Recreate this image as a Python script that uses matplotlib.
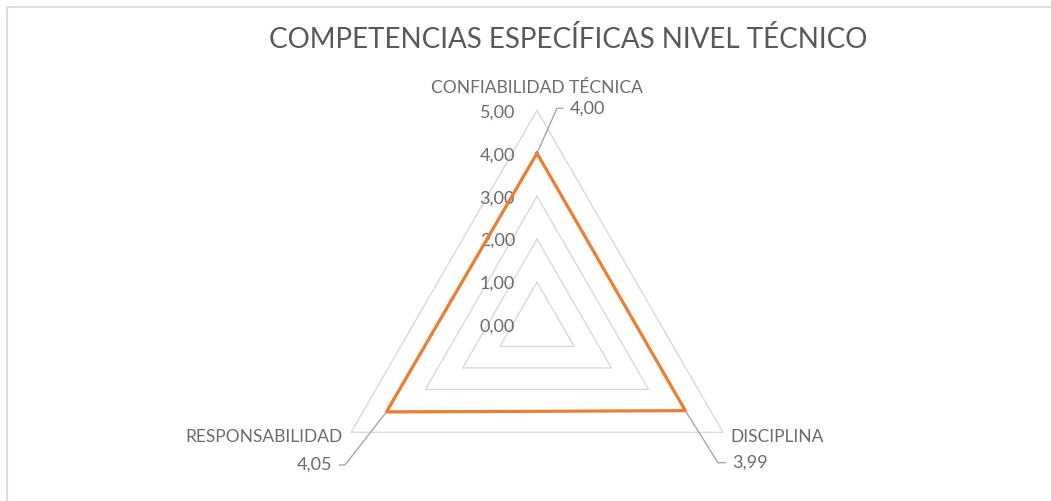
import numpy as np
import matplotlib.pyplot as plt
from matplotlib.lines import Line2D

# Datos del gráfico
categorias = ["CONFIABILIDAD TÉCNICA", "DISCIPLINA", "RESPONSABILIDAD"]
valores = [4.00, 3.99, 4.05]
niveles = [1, 2, 3, 4, 5]
etiquetas_eje = ["0,00", "1,00", "2,00", "3,00", "4,00", "5,00"]
titulo = "COMPETENCIAS ESPECÍFICAS NIVEL TÉCNICO"

plt.rcParams["font.family"] = ["Lato", "DejaVu Sans"]
gris_texto = "#6b6b6b"
gris_rejilla = "#d9d9d9"
naranja = "#ED7D31"

W, H = 1051, 501
fig = plt.figure(figsize=(W / 100, H / 100), dpi=100)

# ejes polares: centro (537, 325) px, radio 5 -> 214.7 px
cx, cy, R = 537, 325, 214.7
ax = fig.add_axes([(cx - R) / W, (H - cy - R) / H, 2 * R / W, 2 * R / H], projection="polar")
ax.set_theta_offset(np.pi / 2)
ax.set_theta_direction(-1)
ax.set_ylim(0, 5)
ax.grid(False)
ax.spines["polar"].set_visible(False)
ax.set_xticks([])
ax.set_yticks([])
ax.patch.set_visible(False)

angulos = np.linspace(0, 2 * np.pi, len(categorias), endpoint=False)
ang_cerrado = np.append(angulos, angulos[0])

# rejilla triangular
for r in niveles:
    ax.plot(ang_cerrado, [r] * len(ang_cerrado), color=gris_rejilla, lw=1.0, clip_on=False, zorder=1)

# serie
val_cerrado = valores + [valores[0]]
ax.plot(ang_cerrado, val_cerrado, color=naranja, lw=2.3, clip_on=False, zorder=3)

# etiquetas del eje radial
for i, txt in enumerate(etiquetas_eje):
    ax.annotate(txt, xy=(0, i), xytext=(-22, -2), textcoords="offset pixels",
                ha="right", va="center", fontsize=13, color=gris_texto, zorder=2)

# etiquetas de categorías
pos_cat = [((0, 22), "center"), ((7, -5), "left"), ((-8, -5), "right")]
for ang, cat, (off, ha) in zip(angulos, categorias, pos_cat):
    ax.annotate(cat, xy=(ang, 5), xytext=off, textcoords="offset pixels",
                ha=ha, va="center", fontsize=12.5, color=gris_texto)

# etiquetas de datos con líneas guía
guias = [((33, 45), "left", 66), ((47, -52), "left", 122), ((-54, -53), "right", 52)]
for ang, v, (off, ha, angb) in zip(angulos, valores, guias):
    txt = f"{v:.2f}".replace(".", ",")
    ax.annotate(txt, xy=(ang, v), xytext=off, textcoords="offset pixels",
                ha=ha, va="center", fontsize=13, color=gris_texto,
                arrowprops=dict(arrowstyle="-", color="#a6a6a6", lw=1.0,
                                shrinkA=3, shrinkB=0,
                                relpos=(0, 0.5) if ha == "left" else (1, 0.5),
                                connectionstyle=f"angle,angleA=0,angleB={angb},rad=0"),
                zorder=4)

fig.text(568 / W, 1 - 40 / H, titulo, ha="center", va="center", fontsize=20, color="#595959")

# borde del área del gráfico
fig.add_artist(Line2D([7 / W, 7 / W], [0, 1 - 7 / H], color="#dedede", lw=1.5))
fig.add_artist(Line2D([7 / W, 1], [1 - 7 / H, 1 - 7 / H], color="#dedede", lw=1.5))

fig.savefig("out.png", dpi=100)
